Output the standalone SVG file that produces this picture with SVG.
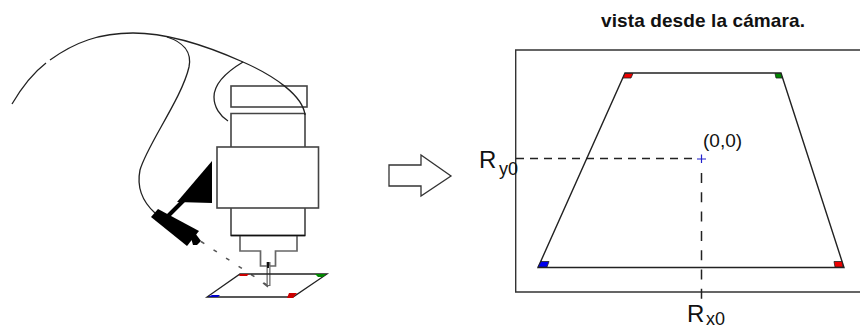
<svg xmlns="http://www.w3.org/2000/svg" width="860" height="329" viewBox="0 0 860 329">
<style>
.g{fill:none;stroke:#666;stroke-width:1.7}
.k{fill:none;stroke:#222;stroke-width:1.3}
.w{fill:none;stroke:#444;stroke-width:1.6}
.d{fill:none;stroke:#222;stroke-width:1.5}
.m{stroke:#222;stroke-width:.8}
text{font-family:"Liberation Sans",Arial,sans-serif;fill:#111}
</style>
<rect width="860" height="329" fill="#fff"/>
<g id="head">
<rect class="w" x="231" y="86" width="76" height="21"/>
<path class="w" d="M231 147V113.500H305V147"/>
<rect class="w" x="217" y="147" width="101.500" height="61"/>
<path class="w" d="M231 208V235.500H305V208"/>
<path class="g" d="M240 236V251H260.500V266H275.500V251H297V236"/>
<path d="M231 235.500H305" stroke="#111" stroke-width="1.500"/>
</g>
<g id="cable">
<path class="k" d="M12 104C22 87 33 73 46 63"/>
<path class="k" d="M50 60C75 42 100 33 133 33C165 33 205 45 243 62C275 76 303 96 305 115"/>
<path class="k" d="M167 37C183 42 192 52 189 67C182 98 147 145 140 170C136 190 144 203 155 213"/>
<path class="k" d="M243 62C223 74 214 85 214 97C214 107 220 116 228 121"/>
</g>
<g id="camera">
<path d="M212 161V203L177 202Z" fill="#000"/>
<path d="M184 200L167 217" stroke="#000" stroke-width="4"/>
<path d="M158 209L151 217L187 246L191 241L199 231Z" fill="#000"/>
<path d="M191 238L195 233L201 241L197 245L193 245Z" fill="#000"/>
</g>
<g id="sight">
<path d="M201 241.500L267 285" fill="none" stroke="#555" stroke-width="1.500" stroke-dasharray="4 11"/>
</g>
<g id="tool">
<path d="M268.500 262V286" stroke="#666" stroke-width="4"/>
<path d="M268.500 266V285" stroke="#fff" stroke-width="1.500"/>
<path d="M268 262V268" stroke="#111" stroke-width="2"/>
<path d="M263 283L268 287" stroke="#555" stroke-width="1.500"/>
</g>
<g id="plate">
<path d="M240 274H327L293 297H207Z" fill="none" stroke="#222" stroke-width="1.300"/>
<path d="M240 274H249L247 276H239Z" fill="#c00"/>
<path d="M315 274H326L323 277H318Z" fill="#080"/>
<path d="M208 297L212 295H220L218 297Z" fill="#00c"/>
<path d="M289 293H297L293 298H287Z" fill="#c00"/>
</g>
<g id="arrow">
<path d="M389 165H421V155L451 176L421 196V186H389Z" fill="#fff" stroke="#333" stroke-width="1.300"/>
</g>
<g id="title"><text x="601" y="27" font-size="19" font-weight="700" textLength="204">vista desde la cámara.</text></g>
<g id="view">
<path d="M870 50H515.700V292H870" fill="none" stroke="#333" stroke-width="1.400"/>
<path d="M625 73H781L844 267.500H538Z" fill="none" stroke="#222" stroke-width="1.400"/>
<path class="m" fill="#e00" d="M625 73.500H633L631 78H623Z"/>
<path class="m" fill="#080" d="M775 73.500H781L782 78H776Z"/>
<path class="m" fill="#00e" d="M541 261.500H549L547 267H538Z"/>
<path class="m" fill="#e00" d="M834 261.500H842L843 267H835Z"/>
<path class="d" stroke-dasharray="8 6" d="M516 158.500H697"/>
<path class="d" stroke-dasharray="10 9.300" d="M701.500 173V299"/>
<path d="M697 159H706M701.500 154.500V163" stroke="#22c" stroke-width="1.200"/>
</g>
<g id="labels">
<text x="703" y="147" font-size="19">(0,0)</text>
<text x="479" y="168" font-size="24">R</text>
<text x="499" y="175" font-size="18">y0</text>
<text x="687" y="322" font-size="24">R</text>
<text x="706" y="325" font-size="18">x0</text>
</g>
</svg>
